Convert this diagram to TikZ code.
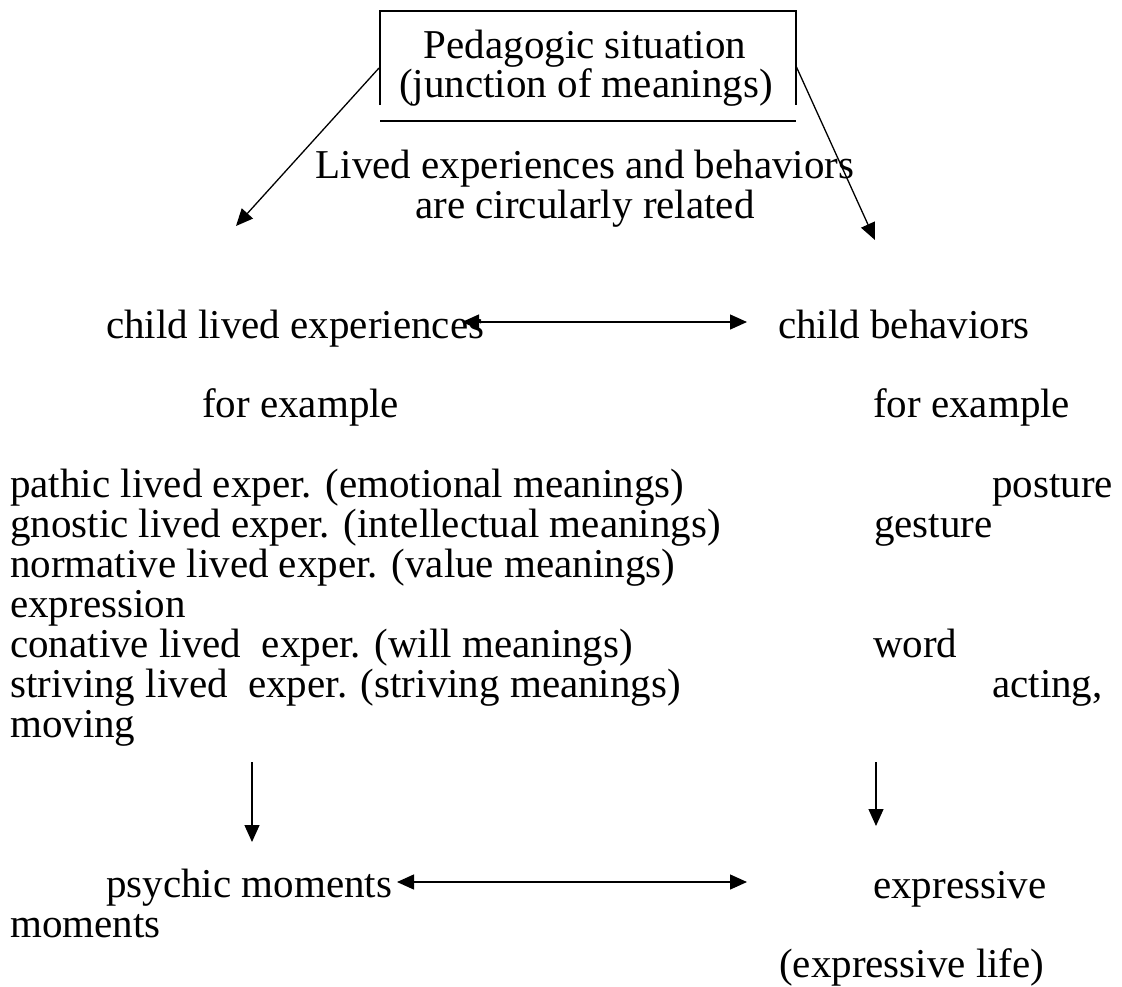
\documentclass[tikz,border=0pt]{standalone}
\usepackage{fontspec}
\setmainfont{Liberation Serif}
\usetikzlibrary{arrows.meta}
\begin{document}
\begin{tikzpicture}[x=1pt,y=-1pt,
  txt/.style={font=\fontsize{41}{40}\selectfont, inner sep=0pt, anchor=base west},
  ctxt/.style={font=\fontsize{41}{40}\selectfont, inner sep=0pt, anchor=base},
  conn/.style={line width=1.3pt, -{Triangle[length=17pt,width=15pt]}},
  dconn/.style={line width=1.3pt, {Triangle[length=17pt,width=15pt]}-{Triangle[length=17pt,width=15pt]}},
  frame/.style={line width=1.3pt}]
\useasboundingbox[fill=white] (0,0) rectangle (1122,986);

% top box
\node[ctxt] (ped) at (585,58) {Pedagogic situation};
\node[ctxt] (junc) at (586,97) {(junction of meanings)};
\coordinate (bl) at (380,105);
\coordinate (tl) at (380,11);
\coordinate (tr) at (796,11);
\coordinate (br) at (796,105);
\coordinate (ul) at (380,121);
\coordinate (ur) at (796,121);
\draw[frame] (bl) -- (tl) -- (tr) -- (br);
\draw[frame] (ul) -- (ur);

\node[ctxt] (lived) at (585,178) {Lived experiences and behaviors};
\node[ctxt] (circ) at (585,218) {are circularly related};

% diagonal arrows
\coordinate (dls) at (379,68);
\coordinate (dle) at (236,226);
\coordinate (drs) at (796,66);
\coordinate (dre) at (875,240);
\draw[conn] (dls) -- (dle);
\draw[conn] (drs) -- (dre);

% second level
\node[txt] (cle) at (106,338) {child lived experiences};
\node[txt] (cb) at (778,338) {child behaviors};
\coordinate (a1l) at (462,322);
\coordinate (a1r) at (747,322);
\draw[dconn] (a1l) -- (a1r);

\node[txt] (fe1) at (202,417) {for example};
\node[txt] (fe2) at (873,417) {for example};

% list
\node[txt] (l1) at (10,497) {pathic lived exper. (emotional meanings)};
\node[txt] (l2) at (10,537) {gnostic lived exper. (intellectual meanings)};
\node[txt] (l3) at (10,577) {normative lived exper. (value meanings)};
\node[txt] (l4) at (10,617) {expression};
\node[txt] (l5) at (10,657) {conative lived\ \ exper. (will meanings)};
\node[txt] (l6) at (10,697) {striving lived\ \ exper. (striving meanings)};
\node[txt] (l7) at (10,737) {moving};

\node[txt] (r1) at (992,497) {posture};
\node[txt] (r2) at (874,537) {gesture};
\node[txt] (r5) at (873,657) {word};
\node[txt] (r6) at (992,697) {acting,};

% down arrows
\coordinate (dl1) at (252,762);
\coordinate (dl2) at (252,842);
\coordinate (dr1) at (876,762);
\coordinate (dr2) at (876,826);
\draw[conn] (dl1) -- (dl2);
\draw[conn] (dr1) -- (dr2);

% bottom
\node[txt] (psy) at (106,897) {psychic moments};
\node[txt] (exp) at (873,898) {expressive};
\node[txt] (mom) at (10,937) {moments};
\node[txt] (expl) at (779,977) {(expressive life)};
\coordinate (a2l) at (397,882);
\coordinate (a2r) at (747,882);
\draw[dconn] (a2l) -- (a2r);
\end{tikzpicture}
\end{document}
